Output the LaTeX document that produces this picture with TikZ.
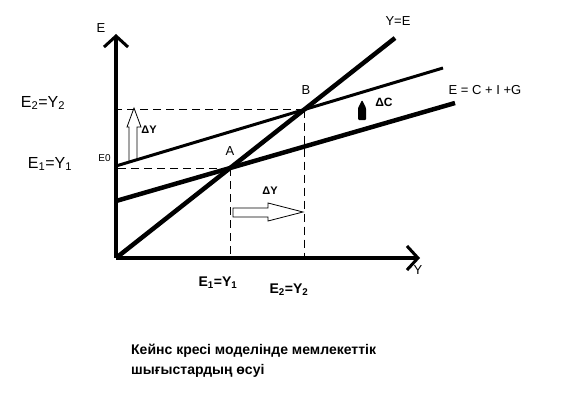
\documentclass[tikz,border=0pt]{standalone}
\usepackage{fontspec}
\setmainfont{Liberation Sans}
\usetikzlibrary{arrows.meta,intersections}
\begin{document}
\begin{tikzpicture}[x=1pt,y=-1pt,
  axis/.style={line width=3.5pt,-{Straight Barb[length=11pt,width=24pt,line width=3pt]}},
  thickline/.style={line width=4.5pt},
  guide/.style={line width=0.9pt,dash pattern=on 8pt off 5pt},
  lbl/.style={font=\fontsize{13}{15}\selectfont},
  biglbl/.style={font=\fontsize{16}{18}\selectfont},
  boldlbl/.style={font=\bfseries\fontsize{14}{16}\selectfont},
  deltalbl/.style={font=\bfseries\fontsize{11}{13}\selectfont}]
		\useasboundingbox (0,0) rectangle (572,401);

		\coordinate (O) at (116,258);
		\draw[axis] (O) -- (116,34);
		\draw[axis] (O) -- (420,258);

		\draw[thickline,name path=yeqe] (O) -- (395,38);
		\draw[line width=3pt,name path=enew] (116,166) -- (443,68);
		\draw[thickline,name path=eold] (116,201) -- (455,103);
		\path[name intersections={of=yeqe and eold,by=A}];
		\path[name intersections={of=yeqe and enew,by=B}];

		\draw[guide] (A) -- (A -| O);
		\draw[guide] (A) -- (A |- O);
		\draw[guide] (B) -- (B -| O);
		\draw[guide] (B) -- (B |- O);

		\draw[line width=0.8pt] (129,162) -- (129,127) -- (127,127) -- (134,108)
			-- (141,127) -- (137,127) -- (137,160);
		\draw[line width=0.8pt] (233,208) -- (268,208) -- (268,203) -- (303,212)
			-- (268,221) -- (268,217) -- (233,217) -- cycle;
		\fill[rounded corners=1pt] (358,120) -- (358,108) -- (362,100) -- (366,108) -- (366,120) -- cycle;

		\node[lbl] (ylab) at (101,28) {E};
		\node[lbl] (xlab) at (418,270) {Y};
		\node[lbl] (yelab) at (398,21) {Y=E};
		\node[lbl] (elab) at (485,90) {E = C + I +G};
		\node[lbl] (alab) at (230,151) {A};
		\node[lbl] (blab) at (306,90) {B};
		\node[font=\fontsize{10}{12}\selectfont] (e0lab) at (104.5,158) {E0};
		\node[biglbl] (e2left) at (43,103) {E\textsubscript{2}=Y\textsubscript{2}};
		\node[biglbl] (e1left) at (50,164) {E\textsubscript{1}=Y\textsubscript{1}};
		\node[boldlbl] (e1low) at (218,283) {E\textsubscript{1}=Y\textsubscript{1}};
		\node[boldlbl] (e2low) at (289,290) {E\textsubscript{2}=Y\textsubscript{2}};
		\node[deltalbl] (dyup) at (149,130) {ΔY};
		\node[deltalbl] (dyright) at (270,191) {ΔY};
		\node[deltalbl,font=\bfseries\fontsize{12}{14}\selectfont] (dclab) at (384,102) {ΔC};
		\node[anchor=north west,align=left,inner sep=0pt,
			font=\bfseries\fontsize{14}{20}\selectfont] (caption) at (131,344)
			{Кейнс кресі моделінде мемлекеттік\\шығыстардың өсуі};
\end{tikzpicture}
\end{document}
